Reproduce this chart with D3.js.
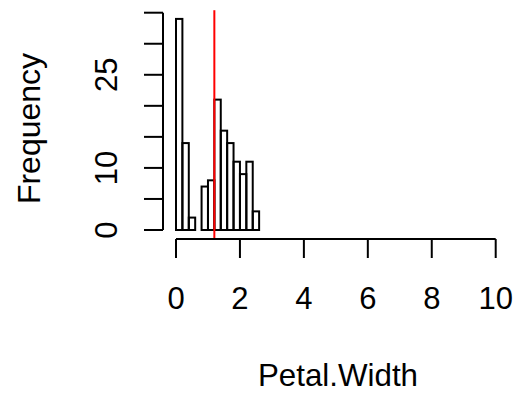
<!DOCTYPE html>
<html><head><meta charset="utf-8">
<script src="https://cdn.jsdelivr.net/npm/d3@7"></script>
<style>body{margin:0;background:#fff}svg{display:block}text{font-family:"Liberation Sans",Arial,sans-serif;fill:#000}</style>
</head><body>
<script>
const binStarts = [0,0.2,0.4,0.6,0.8,1.0,1.2,1.4,1.6,1.8,2.0,2.2,2.4];
const binWidth = 0.2;
const counts = [34,14,2,0,7,8,21,16,14,11,9,11,3];
const meanValue = 1.199333;
const xTicks = [0,2,4,6,8,10];
const yTicks = [0,5,10,15,20,25,30,35];
const yLabels = ["0","","10","","","25","",""];

const W=514,H=393;
const svg=d3.select("body").append("svg").attr("width",W).attr("height",H);
const x=d3.scaleLinear().domain([0,10]).range([176,495.7]);
const y=d3.scaleLinear().domain([0,35]).range([230,12.7]);
const fs=31;

svg.append("g").selectAll("rect").data(counts).join("rect")
  .attr("x",(d,i)=>x(binStarts[i]))
  .attr("width",(d,i)=>x(binStarts[i]+binWidth)-x(binStarts[i]))
  .attr("y",d=>y(d)).attr("height",d=>y(0)-y(d))
  .attr("fill","none").attr("stroke","#000").attr("stroke-width",2);

// x axis
const xg=svg.append("g").attr("transform","translate(0,239)");
xg.append("line").attr("x1",x(0)).attr("x2",x(10)).attr("stroke","#000").attr("stroke-width",2);
xg.selectAll("line.t").data(xTicks).join("line").attr("class","t")
  .attr("x1",d=>x(d)).attr("x2",d=>x(d)).attr("y1",0).attr("y2",19).attr("stroke","#000").attr("stroke-width",2);
xg.selectAll("text").data(xTicks).join("text").attr("x",d=>x(d)).attr("y",70)
  .attr("text-anchor","middle").attr("font-size",fs).text(d=>d);

// y axis
const yg=svg.append("g").attr("transform","translate(163,0)");
yg.append("line").attr("y1",y(0)).attr("y2",y(35)).attr("stroke","#000").attr("stroke-width",2);
yg.selectAll("line.t").data(yTicks).join("line").attr("class","t")
  .attr("x1",0).attr("x2",-19).attr("y1",d=>y(d)).attr("y2",d=>y(d)).attr("stroke","#000").attr("stroke-width",2);
yg.selectAll("text").data(yTicks).join("text")
  .attr("transform",d=>`translate(-46,${y(d)}) rotate(-90)`)
  .attr("text-anchor","middle").attr("font-size",fs).text((d,i)=>yLabels[i]);

// mean line
svg.append("line").attr("x1",x(meanValue)).attr("x2",x(meanValue))
  .attr("y1",y(35.4)).attr("y2",y(-1.29)).attr("stroke","#ff0000").attr("stroke-width",2);

svg.append("text").attr("x",338).attr("y",386).attr("text-anchor","middle").attr("font-size",31.3).text("Petal.Width");
svg.append("text").attr("transform","translate(39.5,128.5) rotate(-90)").attr("text-anchor","middle").attr("font-size",32).text("Frequency");
</script>
</body></html>
